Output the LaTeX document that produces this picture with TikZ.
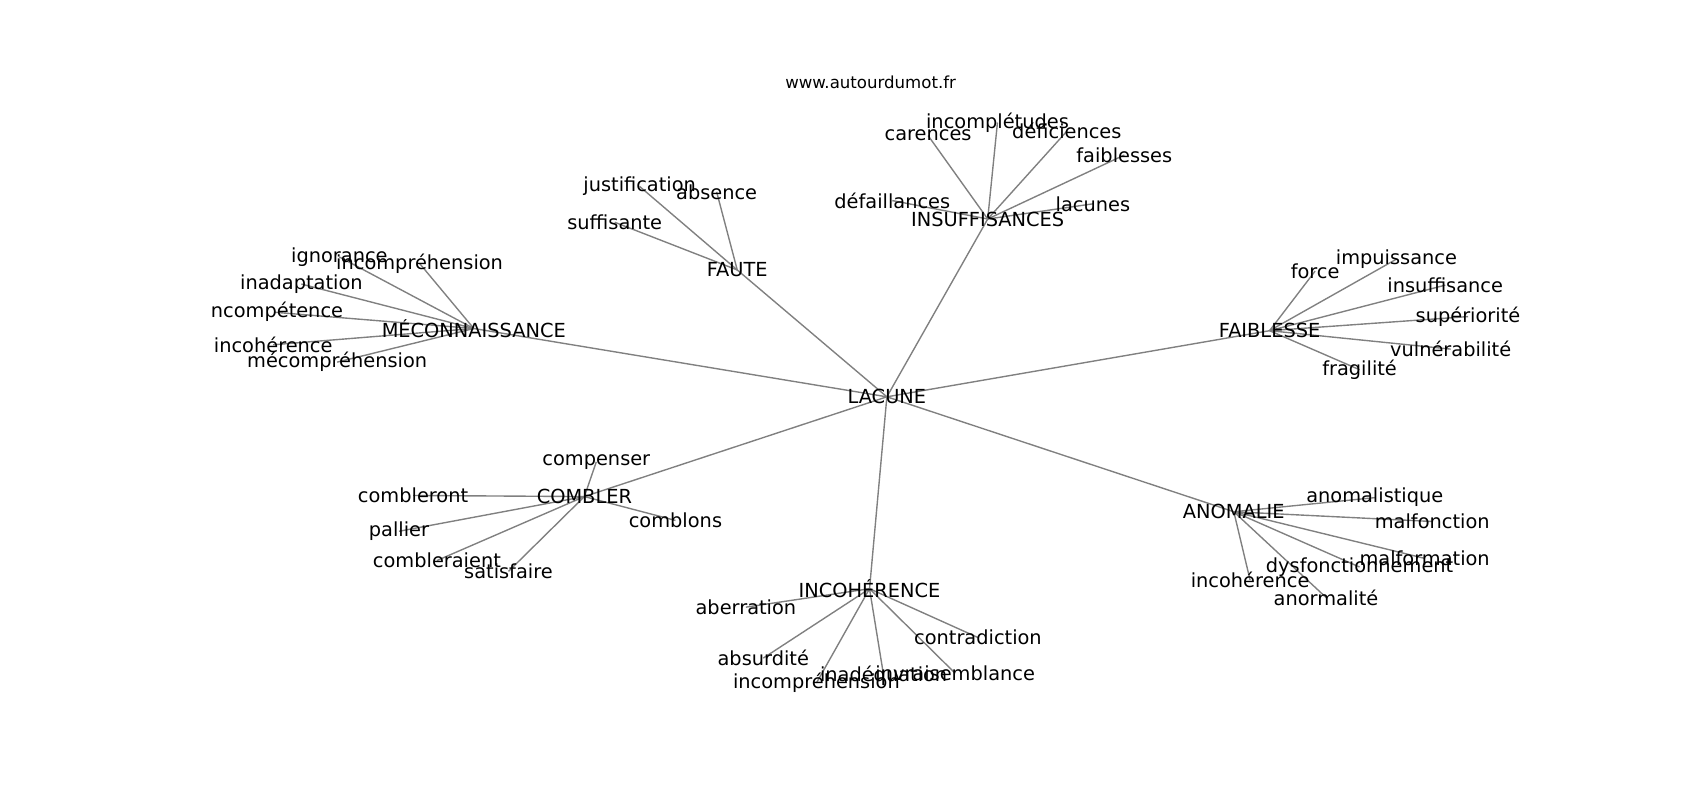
\documentclass[tikz,border=0pt]{standalone}
\usepackage{fontspec}
\setmainfont{DejaVu Sans}
\usepackage{tikz}
\usetikzlibrary{backgrounds}

\begin{document}
\begin{tikzpicture}[x=0.781bp,y=-0.781bp]

\tikzstyle{word}=[inner sep=0pt,font=\fontsize{14}{17}\selectfont]
\tikzstyle{edge}=[draw=gray,line width=1bp]

\useasboundingbox (0,0) rectangle (1568,737.6);
\node at (803, 76) (site) {\fontsize{12}{14}\selectfont www.autourdumot.fr};

\begin{scope}
\clip (196,88.5) rectangle (1411,656.5);

% centre et groupes
\node[word] at (818, 366) (lacune) {LACUNE};
\node[word] at (437, 303) (mecon) {MÉCONNAISSANCE};
\node[word] at (680, 249) (faute) {FAUTE};
\node[word] at (911, 202) (insuf) {INSUFFISANCES};
\node[word] at (1171, 305) (faib) {FAIBLESSE};
\node[word] at (539, 458) (comb) {COMBLER};
\node[word] at (802, 543) (incoh) {INCOHÉRENCE};
\node[word] at (1138, 472) (anom) {ANOMALIE};

% MÉCONNAISSANCE
\node[word] at (313, 237) (ignorance) {ignorance};
\node[word] at (387, 243) (incompA) {incompréhension};
\node[word] at (278, 262) (inadaptation) {inadaptation};
\node[word] at (253, 288) (incompetence) {incompétence};
\node[word] at (252, 318) (incohA) {incohérence};
\node[word] at (311, 334) (mecompr) {mécompréhension};

% FAUTE
\node[word] at (590, 172) (justification) {justification};
\node[word] at (661, 177) (absence) {absence};
\node[word] at (567, 205) (suffisante) {suffisante};

% INSUFFISANCES
\node[word] at (856, 125) (carences) {carences};
\node[word] at (920, 113) (incompletudes) {incomplétudes};
\node[word] at (984, 121) (deficiences) {déficiences};
\node[word] at (1037, 143) (faiblesses) {faiblesses};
\node[word] at (823, 185) (defaillances) {défaillances};
\node[word] at (1008, 188) (lacunes) {lacunes};

% FAIBLESSE
\node[word] at (1213, 250) (force) {force};
\node[word] at (1288, 239) (impuissance) {impuissance};
\node[word] at (1333, 263) (insuffisance) {insuffisance};
\node[word] at (1354, 292) (superiorite) {supériorité};
\node[word] at (1338, 322) (vulnerabilite) {vulnérabilité};
\node[word] at (1254, 341) (fragilite) {fragilité};

% COMBLER
\node[word] at (550, 426) (compenser) {compenser};
\node[word] at (381, 457) (combleront) {combleront};
\node[word] at (368, 490) (pallier) {pallier};
\node[word] at (403, 517) (combleraient) {combleraient};
\node[word] at (469, 527) (satisfaire) {satisfaire};
\node[word] at (623, 480) (comblons) {comblons};

% INCOHÉRENCE
\node[word] at (688, 560) (aberration) {aberration};
\node[word] at (704, 607) (absurdite) {absurdité};
\node[word] at (753, 630) (incompB) {incompréhension};
\node[word] at (815, 623) (inadequation) {inadéquation};
\node[word] at (881, 621) (invraisemblance) {invraisemblance};
\node[word] at (902, 588) (contradiction) {contradiction};

% ANOMALIE
\node[word] at (1268, 459) (anomalistique) {anomalistique};
\node[word] at (1321, 481) (malfonction) {malfonction};
\node[word] at (1314, 515) (malformation) {malformation};
\node[word] at (1254, 523) (dysfonct) {dysfonctionnement};
\node[word] at (1153, 535) (incohB) {incohérence};
\node[word] at (1223, 551) (anormalite) {anormalité};

\begin{pgfonlayer}{background}
\foreach \g in {mecon,faute,insuf,faib,comb,incoh,anom}
  \draw[edge] (lacune.center) to (\g.center);
\foreach \w in {ignorance,incompA,inadaptation,incompetence,incohA,mecompr}
  \draw[edge] (mecon.center) to (\w.center);
\foreach \w in {justification,absence,suffisante}
  \draw[edge] (faute.center) to (\w.center);
\foreach \w in {carences,incompletudes,deficiences,faiblesses,defaillances,lacunes}
  \draw[edge] (insuf.center) to (\w.center);
\foreach \w in {force,impuissance,insuffisance,superiorite,vulnerabilite,fragilite}
  \draw[edge] (faib.center) to (\w.center);
\foreach \w in {compenser,combleront,pallier,combleraient,satisfaire,comblons}
  \draw[edge] (comb.center) to (\w.center);
\foreach \w in {aberration,absurdite,incompB,inadequation,invraisemblance,contradiction}
  \draw[edge] (incoh.center) to (\w.center);
\foreach \w in {anomalistique,malfonction,malformation,dysfonct,incohB,anormalite}
  \draw[edge] (anom.center) to (\w.center);
\end{pgfonlayer}
\end{scope}

\end{tikzpicture}
\end{document}
